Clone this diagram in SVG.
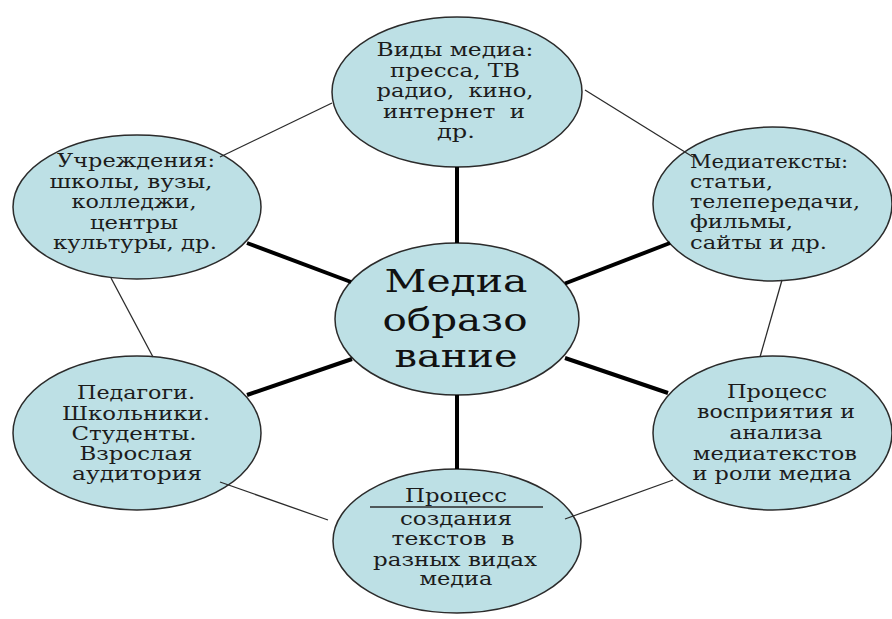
<svg xmlns="http://www.w3.org/2000/svg" width="892" height="619" viewBox="0 0 892 619">
<style>
.node ellipse{fill:#bde0e5;stroke:#2b2b2b;stroke-width:1.5}
text{font-family:"DejaVu Serif","Liberation Serif",serif;font-size:18.5px;fill:#1c1c1c;text-anchor:middle}
.big{font-size:31px;fill:#111}
.left{text-anchor:start}
.thick{stroke:#000;stroke-width:4;fill:none}
.thin{stroke:#2b2b2b;stroke-width:1.3;fill:none}
</style>
<rect width="892" height="619" fill="#fff"/>
<g id="n-top" class="node">
<ellipse cx="457" cy="92" rx="125" ry="75"/>
<text x="455" y="56" textLength="157" lengthAdjust="spacingAndGlyphs">Виды медиа:</text>
<text x="455" y="76.5" textLength="130" lengthAdjust="spacingAndGlyphs">пресса, ТВ</text>
<text x="455" y="97" textLength="157" lengthAdjust="spacingAndGlyphs" xml:space="preserve">радио,  кино,</text>
<text x="454" y="117.5" textLength="142" lengthAdjust="spacingAndGlyphs" xml:space="preserve">интернет  и</text>
<text x="456" y="138" textLength="38" lengthAdjust="spacingAndGlyphs">др.</text>
</g>
<g id="n-institutions" class="node">
<ellipse cx="137" cy="207" rx="124" ry="72"/>
<text x="136" y="167" textLength="158" lengthAdjust="spacingAndGlyphs">Учреждения:</text>
<text x="131" y="188" textLength="163" lengthAdjust="spacingAndGlyphs">школы, вузы,</text>
<text x="134" y="208" textLength="125" lengthAdjust="spacingAndGlyphs">колледжи,</text>
<text x="134" y="229" textLength="88" lengthAdjust="spacingAndGlyphs">центры</text>
<text x="135" y="249" textLength="164" lengthAdjust="spacingAndGlyphs">культуры, др.</text>
</g>
<g id="n-mediatexts" class="node">
<ellipse cx="772.5" cy="204" rx="119.5" ry="77"/>
<text class="left" x="690" y="168" textLength="158" lengthAdjust="spacingAndGlyphs">Медиатексты:</text>
<text class="left" x="690" y="188" textLength="83" lengthAdjust="spacingAndGlyphs">статьи,</text>
<text class="left" x="690" y="208" textLength="170" lengthAdjust="spacingAndGlyphs">телепередачи,</text>
<text class="left" x="690" y="228" textLength="103" lengthAdjust="spacingAndGlyphs">фильмы,</text>
<text class="left" x="690" y="249" textLength="137" lengthAdjust="spacingAndGlyphs">сайты и др.</text>
</g>
<g id="n-center" class="node">
<ellipse cx="457" cy="319" rx="122" ry="76"/>
<text class="big" x="456" y="292" textLength="143" lengthAdjust="spacingAndGlyphs">Медиа</text>
<text class="big" x="455" y="331" textLength="145" lengthAdjust="spacingAndGlyphs">образо</text>
<text class="big" x="456" y="367" textLength="123" lengthAdjust="spacingAndGlyphs">вание</text>
</g>
<g id="n-audience" class="node">
<ellipse cx="137" cy="433" rx="124" ry="77"/>
<text x="136" y="399" textLength="118" lengthAdjust="spacingAndGlyphs">Педагоги.</text>
<text x="136" y="420" textLength="148" lengthAdjust="spacingAndGlyphs">Школьники.</text>
<text x="134" y="440" textLength="125" lengthAdjust="spacingAndGlyphs">Студенты.</text>
<text x="136" y="460" textLength="113" lengthAdjust="spacingAndGlyphs">Взрослая</text>
<text x="137" y="480" textLength="130" lengthAdjust="spacingAndGlyphs">аудитория</text>
</g>
<g id="n-perception" class="node">
<ellipse cx="772.5" cy="433" rx="119.5" ry="77"/>
<text x="777" y="398" textLength="100" lengthAdjust="spacingAndGlyphs">Процесс</text>
<text x="776" y="418" textLength="158" lengthAdjust="spacingAndGlyphs">восприятия и</text>
<text x="776" y="439" textLength="93" lengthAdjust="spacingAndGlyphs">анализа</text>
<text x="775" y="460" textLength="164" lengthAdjust="spacingAndGlyphs">медиатекстов</text>
<text x="772" y="480" textLength="159" lengthAdjust="spacingAndGlyphs">и роли медиа</text>
</g>
<g id="n-creation" class="node">
<ellipse cx="457" cy="541" rx="124" ry="72"/>
<text x="456" y="502" textLength="102" lengthAdjust="spacingAndGlyphs">Процесс</text>
<line x1="370" y1="507" x2="543" y2="507" stroke="#2b2b2b" stroke-width="1.3"/>
<text x="456" y="525" textLength="112" lengthAdjust="spacingAndGlyphs">создания</text>
<text x="453" y="545" textLength="123" lengthAdjust="spacingAndGlyphs" xml:space="preserve">текстов  в</text>
<text x="455" y="566" textLength="164" lengthAdjust="spacingAndGlyphs">разных видах</text>
<text x="456" y="585" textLength="73" lengthAdjust="spacingAndGlyphs">медиа</text>
</g>
<g id="connectors">
<line class="thick" x1="457" y1="167" x2="457" y2="243"/>
<line class="thick" x1="247" y1="243" x2="351" y2="282"/>
<line class="thick" x1="670" y1="243" x2="565" y2="283.5"/>
<line class="thick" x1="247" y1="395" x2="352" y2="359"/>
<line class="thick" x1="565" y1="358" x2="668" y2="393"/>
<line class="thick" x1="457" y1="395" x2="457" y2="469"/>
<line class="thin" x1="585" y1="90" x2="693" y2="157"/>
<line class="thin" x1="332" y1="103" x2="220" y2="157"/>
<line class="thin" x1="111" y1="278" x2="153" y2="357"/>
<line class="thin" x1="220" y1="482" x2="328" y2="520"/>
<line class="thin" x1="565" y1="519" x2="673" y2="480"/>
<line class="thin" x1="782" y1="280" x2="760" y2="357"/>
</g>
</svg>
